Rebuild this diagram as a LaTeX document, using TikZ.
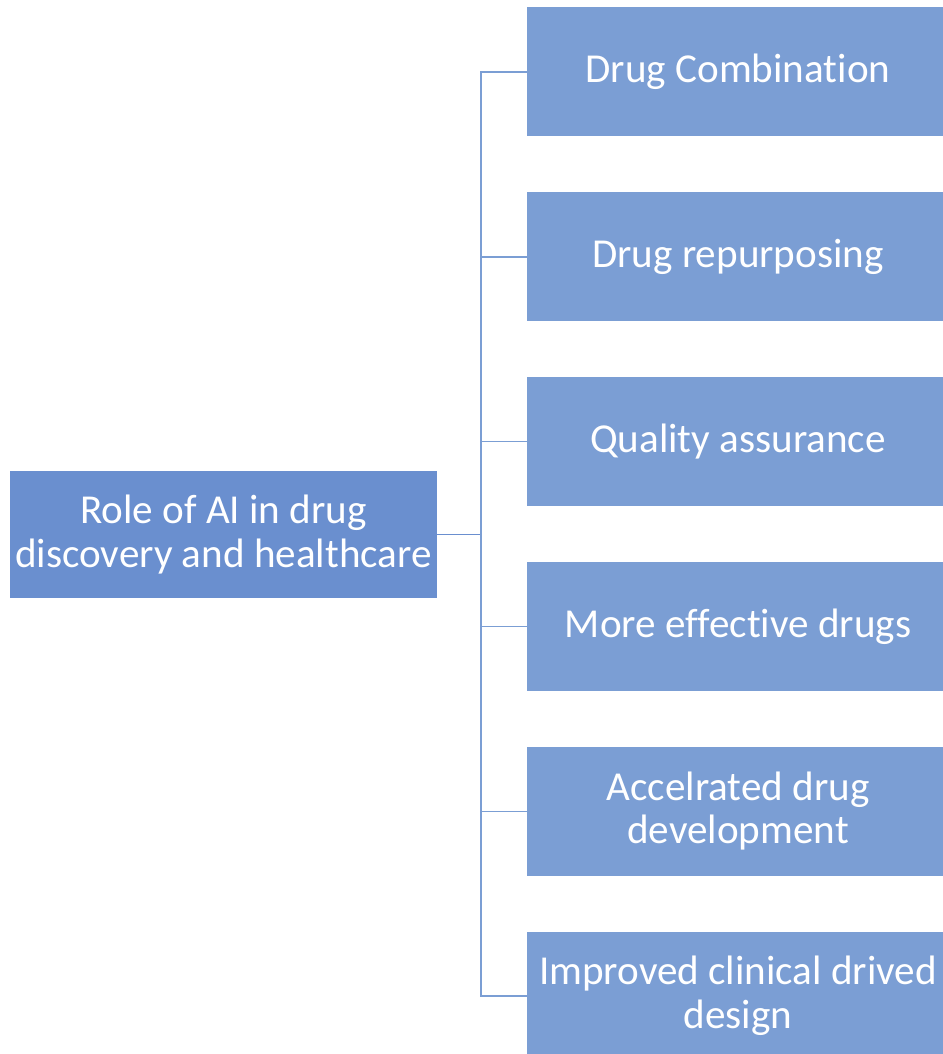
\documentclass[tikz,border=0pt]{standalone}
\usepackage{fontspec}
\setmainfont{Carlito}[Ligatures=NoCommon]
\definecolor{rootblue}{RGB}{106,143,207}
\definecolor{itemblue}{RGB}{123,158,212}

\begin{document}
\begin{tikzpicture}[
  rootbox/.style={fill=rootblue,text=white,align=center,inner sep=0pt,
    minimum width=8.540cm,minimum height=2.540cm,
    font=\fontsize{23.4}{24.8}\selectfont},
  itembox/.style={rootbox,fill=itemblue,minimum width=8.440cm,minimum height=2.580cm},
  link/.style={draw=itemblue,line width=0.8pt}]
\useasboundingbox (0,0) rectangle (18.840,-21.080);
\node[rootbox] (role) at (4.470,-10.690) {Role of AI in drug\\discovery and healthcare};
\node[itembox] (combo) at (14.760,-1.440) {Drug Combination};
\node[itembox] (repurpose) at (14.760,-5.136) {Drug repurposing};
\node[itembox] (quality) at (14.760,-8.832) {Quality assurance};
\node[itembox] (effective) at (14.760,-12.528) {More effective drugs};
\node[itembox] (develop) at (14.760,-16.224) {Accelrated drug\\development};
\node[itembox] (design) at (14.760,-19.920) {Improved clinical drived\\design};
\coordinate (trunk) at (9.620,-10.690);
\draw[link,draw=rootblue,line width=1.1pt] (role.east) -- (trunk);
\draw[link] (combo.west) -| (trunk) |- (design.west);
\draw[link] (repurpose.west) -- (repurpose.west -| trunk);
\draw[link] (quality.west) -- (quality.west -| trunk);
\draw[link] (effective.west) -- (effective.west -| trunk);
\draw[link] (develop.west) -- (develop.west -| trunk);
\end{tikzpicture}
\end{document}
